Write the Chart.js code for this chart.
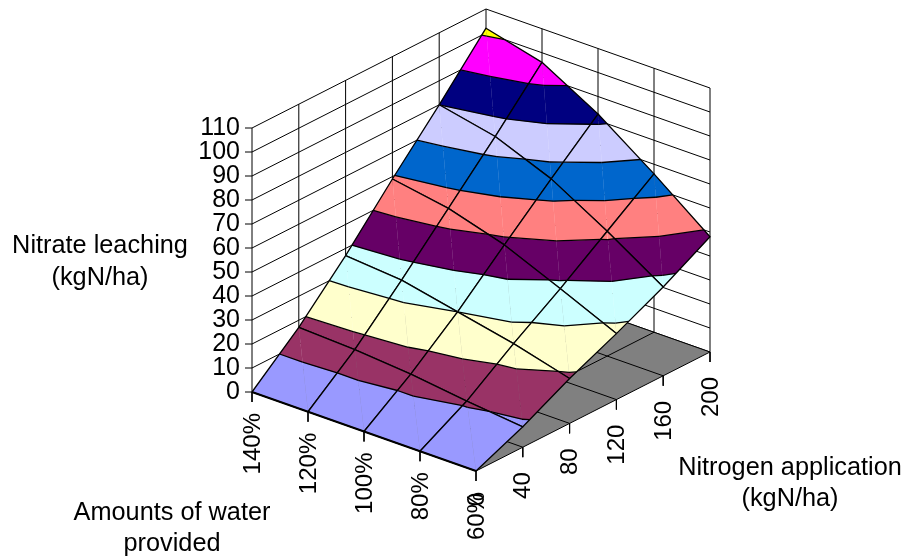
<!DOCTYPE html>
<html>
<head>
<meta charset="utf-8">
<title>Nitrate leaching</title>
<style>
	html, body { margin: 0; padding: 0; background: #fff; }
	canvas { display: block; }
</style>
</head>
<body>
<canvas id="surface" width="904" height="556"></canvas>
<script src="https://cdn.jsdelivr.net/npm/chart.js@4/dist/chart.umd.min.js"></script>
<script>
	const waterLabels = ["140%", "120%", "100%", "80%", "60%"]
	const nitrogenLabels = ["0", "40", "80", "120", "160", "200"]
	const zTicks = [0, 10, 20, 30, 40, 50, 60, 70, 80, 90, 100, 110]

	// one row per water amount, one value per nitrogen rate
	const leach140 = [0, 17, 37, 59, 80, 102]
	const leach120 = [0, 16, 35, 55, 75, 96]
	const leach100 = [0, 14, 30, 48, 65.6, 82.7]
	const leach80 = [0, 11, 25, 38, 52, 66]
	const leach60 = [0, 8.5, 18.7, 27.5, 37, 48]
	const leaching = [leach140, leach120, leach100, leach80, leach60]

	// excel's colour for each 10 kgN/ha band
	const bandColours = ["#9999FF", "#993366", "#FFFFCC", "#CCFFFF", "#660066", "#FF8080",
		"#0066CC", "#CCCCFF", "#000080", "#FF00FF", "#FFFF00"]

	// the fake 3d view: one unit of z is 2.4px, the x scale is in px
	const pxPerZ = 2.4
	const originX = 252, originY = 392
	const waterStep = { x: 56, y: -19.75 / pxPerZ }
	const nitroStep = { x: 46.8, y: 23.8 / pxPerZ }

	function project(w, n, z) {
		return {
			x: originX + w * waterStep.x + n * nitroStep.x,
			y: z + w * waterStep.y + n * nitroStep.y
		}
	}

	const lastW = waterLabels.length - 1
	const lastN = nitrogenLabels.length - 1
	const topZ = zTicks[zTicks.length - 1]

	const layers = []

	function addLine(points, width) {
		layers.push({
			type: "scatter", showLine: true, data: points, pointRadius: 0, tension: 0,
			borderColor: "#000", borderWidth: width, borderJoinStyle: "round", fill: false
		})
	}

	function addShape(points, colour, edge, width) {
		layers.push({
			type: "scatter", showLine: true, data: points.concat([points[0]]), pointRadius: 0, tension: 0,
			borderColor: edge, borderWidth: width, borderJoinStyle: "round",
			backgroundColor: colour, fill: "shape"
		})
	}

	// back walls
	zTicks.forEach(z => {
		addLine([project(0, 0, z), project(0, lastN, z), project(lastW, lastN, z)], 1)
	})
	for (let n = 0; n <= lastN; n++) addLine([project(0, n, 0), project(0, n, topZ)], 1)
	for (let w = 1; w <= lastW; w++) addLine([project(w, lastN, 0), project(w, lastN, topZ)], 1)

	// floor
	addShape([project(0, 0, 0), project(lastW, 0, 0), project(lastW, lastN, 0), project(0, lastN, 0)], "#808080", "#000", 1)
	for (let w = 1; w < lastW; w++) addLine([project(w, 0, 0), project(w, lastN, 0)], 1)
	for (let n = 1; n < lastN; n++) addLine([project(0, n, 0), project(lastW, n, 0)], 1)

	// axis ticks
	zTicks.forEach(z => {
		const p = project(0, 0, z)
		addLine([p, { x: p.x - 7, y: p.y }], 1)
	})
	for (let w = 0; w <= lastW; w++) {
		const p = project(w, 0, 0)
		addLine([p, { x: p.x, y: p.y - 10 / pxPerZ }], 1)
	}
	for (let n = 1; n <= lastN; n++) {
		const p = project(lastW, n, 0)
		addLine([p, { x: p.x, y: p.y - 10 / pxPerZ }], 1)
	}

	// keep the part of a polygon on one side of a height
	function clipAt(poly, level, keepAbove) {
		const out = []
		poly.forEach((a, i) => {
			const b = poly[(i + 1) % poly.length]
			const aIn = keepAbove ? a.z >= level : a.z <= level
			const bIn = keepAbove ? b.z >= level : b.z <= level
			if (aIn) out.push(a)
			if (aIn !== bIn) {
				const t = (level - a.z) / (b.z - a.z)
				out.push({ w: a.w + t * (b.w - a.w), n: a.n + t * (b.n - a.n), z: level })
			}
		})
		return out
	}

	// where a height crosses a triangle, that's the contour segment
	function contourAt(tri, level) {
		const hits = []
		tri.forEach((a, i) => {
			const b = tri[(i + 1) % 3]
			if ((a.z < level) !== (b.z < level)) {
				const t = (level - a.z) / (b.z - a.z)
				hits.push(project(a.w + t * (b.w - a.w), a.n + t * (b.n - a.n), level))
			}
		})
		return hits
	}

	function node(w, n) {
		return { w: w, n: n, z: leaching[w][n] }
	}

	// surface cells, back to front. excel cuts each cell along one diagonal,
	// which is what puts the kinks in the contours and the faint seams in the fill
	for (let w = 0; w < lastW; w++) {
		for (let n = lastN - 1; n >= 0; n--) {
			const triangles = [
				[node(w, n), node(w + 1, n), node(w, n + 1)],
				[node(w + 1, n), node(w + 1, n + 1), node(w, n + 1)]
			]
			triangles.forEach(tri => {
				bandColours.forEach((colour, b) => {
					let poly = clipAt(tri, zTicks[b], true)
					poly = clipAt(poly, zTicks[b + 1], false)
					if (poly.length > 2) addShape(poly.map(p => project(p.w, p.n, p.z)), colour, colour, 0.3)
				})
			})
			triangles.forEach(tri => {
				zTicks.forEach(level => {
					const hits = contourAt(tri, level)
					if (hits.length === 2) addLine(hits, 1.3)
				})
			})
			const rim = [node(w, n), node(w + 1, n), node(w + 1, n + 1), node(w, n + 1), node(w, n)]
			addLine(rim.map(p => project(p.w, p.n, p.z)), 1.3)
		}
	}

	// surface edge lying on the floor reads heavier
	addLine([project(0, 0, 0), project(lastW, 0, 0)], 2)

	// chart.js draws the first dataset last
	layers.forEach((layer, i) => { layer.order = layers.length - i })

	const fontFamily = "'Liberation Sans', Arial, sans-serif"

	const axisText = {
		id: "axisText",
		afterDraw(chart) {
			const ctx = chart.ctx
			const sx = chart.scales.x, sy = chart.scales.y

			function upright(label, p, drop) {
				ctx.save()
				ctx.translate(sx.getPixelForValue(p.x), sy.getPixelForValue(p.y) + drop)
				ctx.rotate(-Math.PI / 2)
				ctx.textAlign = "right"
				ctx.textBaseline = "middle"
				ctx.fillText(label, 0, 1)
				ctx.restore()
			}

			ctx.save()
			ctx.fillStyle = "#000"
			ctx.font = "24px " + fontFamily
			waterLabels.forEach((label, w) => upright(label, project(w, 0, 0), 21))
			nitrogenLabels.forEach((label, n) => upright(label, project(lastW, n, 0), n ? 25 : 22))

			ctx.font = "25.3px " + fontFamily
			ctx.textAlign = "center"
			ctx.textBaseline = "middle"
			ctx.fillText("Nitrate leaching", 100, 246)
			ctx.fillText("(kgN/ha)", 100, 278)
			ctx.fillText("Nitrogen application", 790, 468)
			ctx.fillText("(kgN/ha)", 790, 499)
			ctx.fillText("Amounts of water", 172, 513)
			ctx.fillText("provided", 172, 544)
			ctx.restore()
		}
	}

	const surfaceChart = new Chart(document.getElementById("surface"), {
		type: "scatter",
		data: { datasets: layers },
		plugins: [axisText],
		options: {
			responsive: false,
			animation: false,
			events: [],
			layout: { padding: 0 },
			plugins: { legend: { display: false }, tooltip: { enabled: false } },
			scales: {
				x: { type: "linear", min: 0, max: 904, display: false },
				y: {
					type: "linear",
					position: { x: 240 },
					min: (originY - 556) / pxPerZ,
					max: originY / pxPerZ,
					afterBuildTicks(axis) { axis.ticks = zTicks.map(v => ({ value: v })) },
					// the tick labels sit well inside the canvas, no margin needed
					afterFit(axis) { axis.paddingTop = 0; axis.paddingBottom = 0 },
					grid: { display: false },
					border: { display: false },
					ticks: {
						autoSkip: false,
						color: "#000",
						font: { family: fontFamily, size: 25 }
					}
				}
			}
		}
	})
</script>
</body>
</html>
